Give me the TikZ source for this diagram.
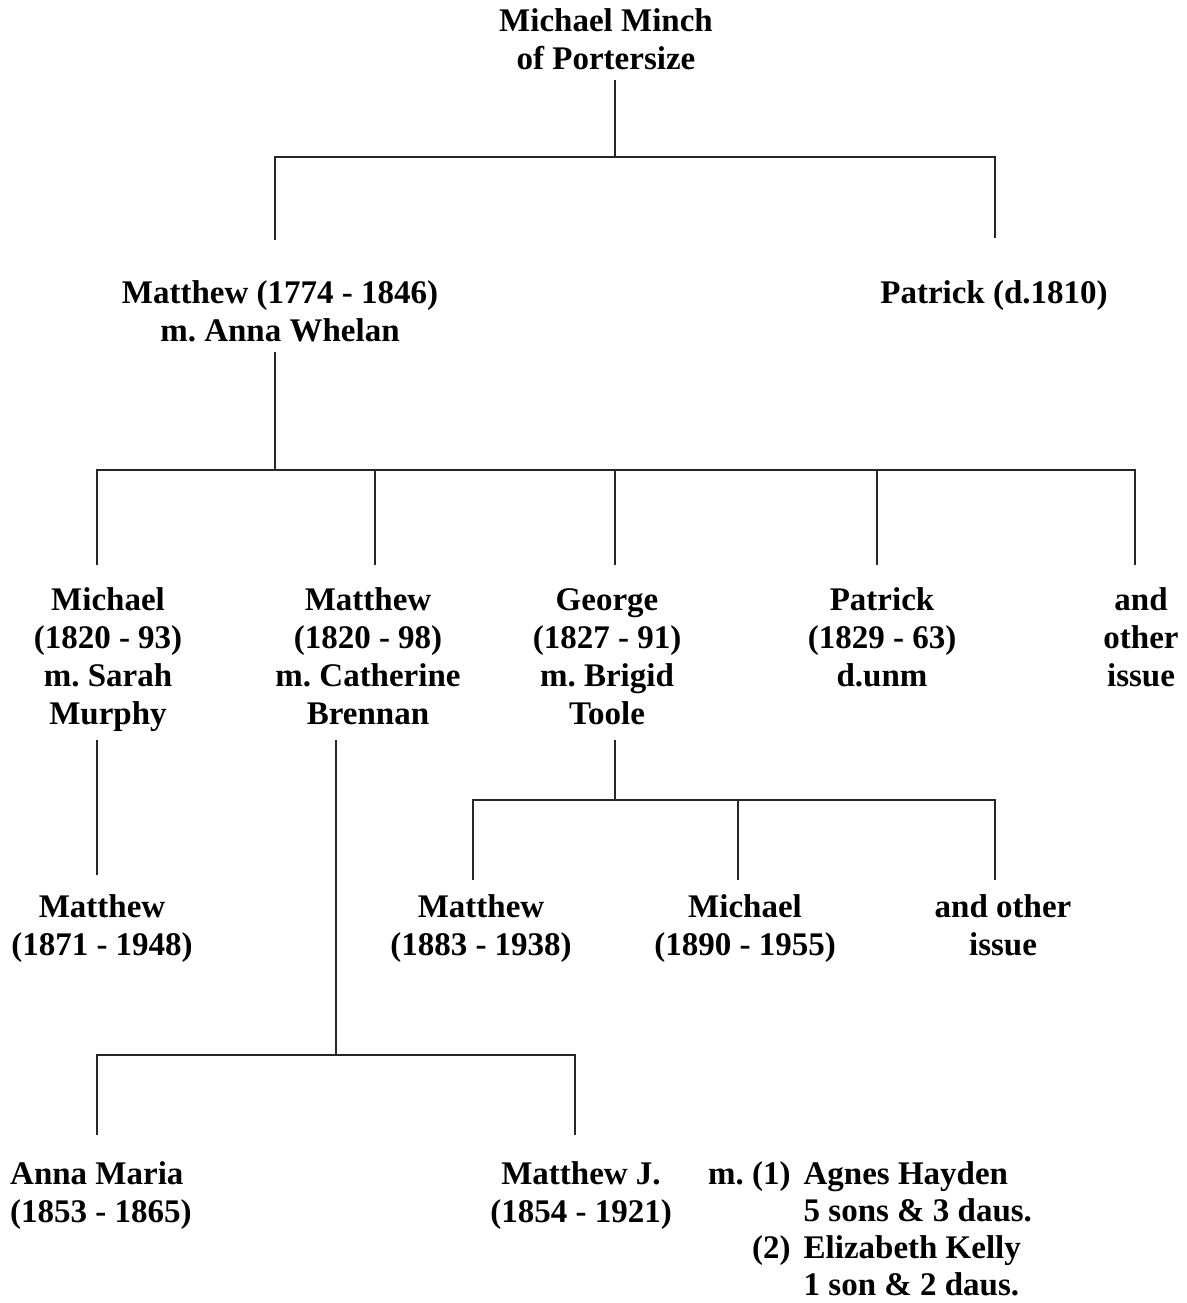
\documentclass[tikz,border=0pt]{standalone}
\usepackage{fontspec}
\setmainfont{Liberation Serif}
\frenchspacing
\newcommand{\ppl}[1]{\begin{tabular}[t]{@{}c@{}}#1\end{tabular}}
\newcommand{\ppll}[1]{\begin{tabular}[t]{@{}l@{}}#1\end{tabular}}
\begin{document}
\begin{tikzpicture}[x=1pt,y=-1pt,
  lbl/.style={inner sep=0pt, anchor=base, font=\fontsize{33}{38}\selectfont\bfseries\frenchspacing},
  conn/.style={line width=1.7pt, color=black!85}]
\useasboundingbox (0,0) rectangle (1186,1303);
% people
\node[lbl] (mm) at (606,32) {\ppl{Michael Minch\\of Portersize}};
\node[lbl] (mt) at (280,303) {\ppl{Matthew (1774 - 1846)\\m. Anna Whelan}};
\node[lbl] (pt) at (994,303) {\ppl{Patrick (d.1810)}};
\node[lbl] (c1) at (108,610) {\ppl{Michael\\(1820 - 93)\\m. Sarah\\Murphy}};
\node[lbl] (c2) at (368,610) {\ppl{Matthew\\(1820 - 98)\\m. Catherine\\Brennan}};
\node[lbl] (c3) at (607,610) {\ppl{George\\(1827 - 91)\\m. Brigid\\Toole}};
\node[lbl] (c4) at (882,610) {\ppl{Patrick\\(1829 - 63)\\d.unm}};
\node[lbl] (c5) at (1141,610) {\ppl{and\\other\\issue}};
\node[lbl] (g1) at (102,917) {\ppl{Matthew\\(1871 - 1948)}};
\node[lbl] (h1) at (481,917) {\ppl{Matthew\\(1883 - 1938)}};
\node[lbl] (h2) at (745,917) {\ppl{Michael\\(1890 - 1955)}};
\node[lbl] (h3) at (1003,917) {\ppl{and other\\issue}};
\node[lbl, anchor=base west] (am) at (10,1184) {\ppll{Anna Maria\\(1853 - 1865)}};
\node[lbl] (mj) at (581,1184) {\ppl{Matthew J.\\(1854 - 1921)}};
\node[lbl, anchor=base west, font=\fontsize{33}{37.3}\selectfont\bfseries\frenchspacing] (mar) at (708,1184)
  {\begin{tabular}[t]{@{}r@{\hspace{13pt}}l@{}}m.\ (1) & Agnes Hayden\\ & 5 sons \& 3 daus.\\ (2) & Elizabeth Kelly\\ & 1 son \& 2 daus.\end{tabular}};
% connector end points
\coordinate (mmB) at (615,80);
\coordinate (mtT) at (275,240);
\coordinate (ptT) at (995,238);
\coordinate (mtB) at (275,352);
\coordinate (bar2) at (275,470);
\coordinate (c1T) at (97,565);
\coordinate (c2T) at (375,565);
\coordinate (c3T) at (615,565);
\coordinate (c4T) at (877,565);
\coordinate (c5T) at (1135,565);
\coordinate (c1B) at (97,740);
\coordinate (g1T) at (97,875);
\coordinate (c2B) at (336,740);
\coordinate (c3B) at (615,740);
\coordinate (h1T) at (473,880);
\coordinate (h2T) at (738,880);
\coordinate (h3T) at (995,880);
\coordinate (amT) at (97,1135);
\coordinate (mjT) at (575,1135);
% connectors
\draw[conn] (mtT) |- (mmB |- 0,157) -| (ptT);
\draw[conn] (mmB) -- (mmB |- 0,157);
\draw[conn] (mtB) -- (bar2);
\draw[conn] (c1T) |- (bar2) -| (c5T);
\draw[conn] (c2T) -- (c2T |- bar2);
\draw[conn] (c3T) -- (c3T |- bar2);
\draw[conn] (c4T) -- (c4T |- bar2);
\draw[conn] (c1B) -- (g1T);
\draw[conn] (c3B) -- (c3B |- 0,800);
\draw[conn] (h1T) |- (c3B |- 0,800) -| (h3T);
\draw[conn] (h2T) -- (h2T |- 0,800);
\draw[conn] (c2B) -- (c2B |- 0,1055);
\draw[conn] (amT) |- (c2B |- 0,1055) -| (mjT);
\end{tikzpicture}
\end{document}
